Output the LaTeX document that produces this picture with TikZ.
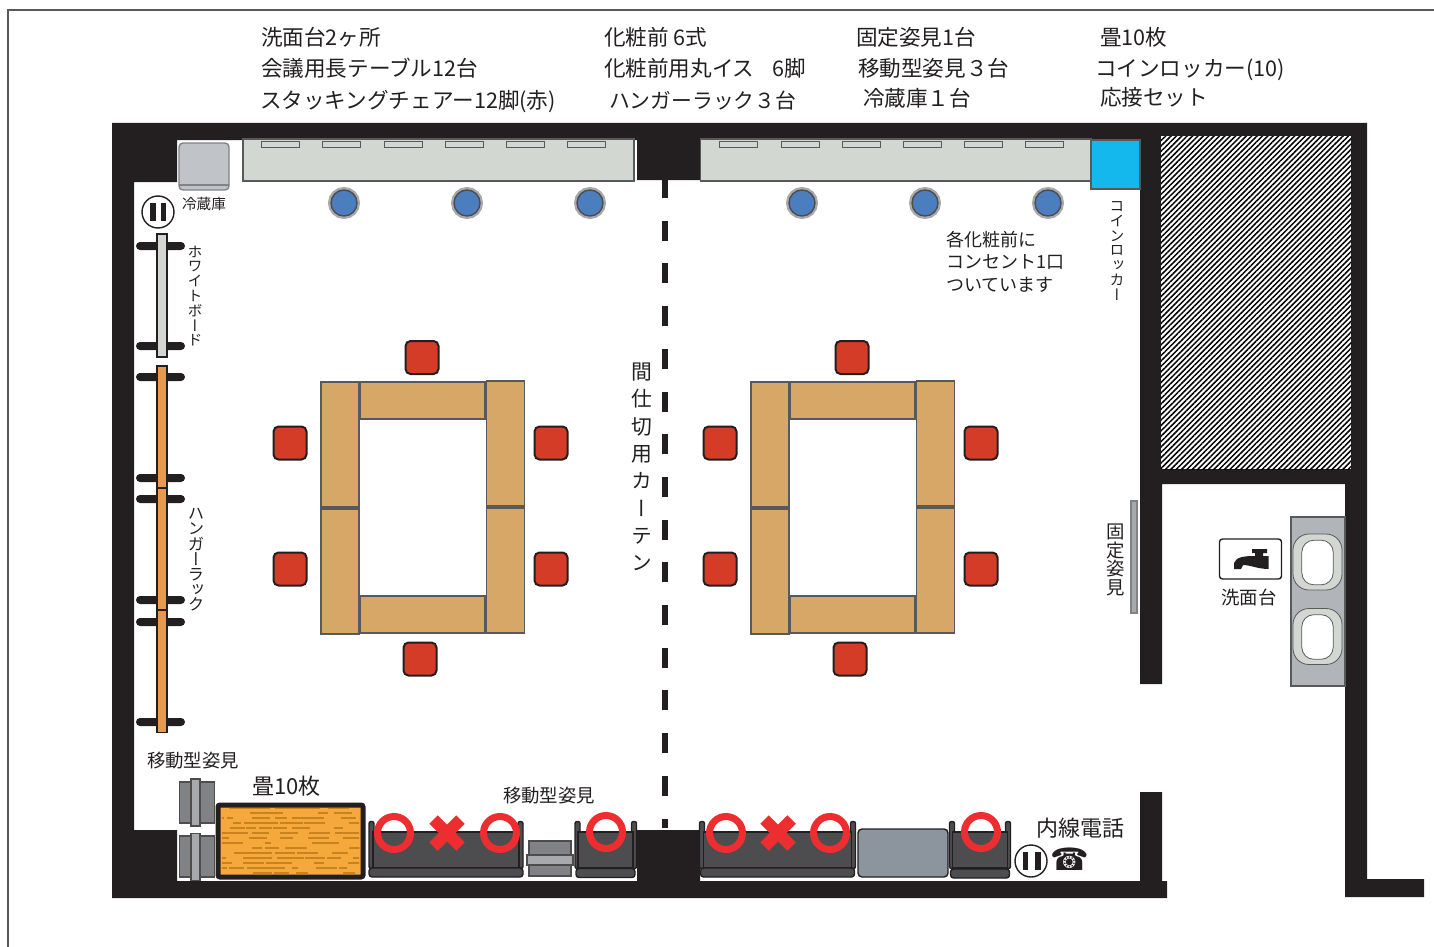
\documentclass[tikz,border=0pt]{standalone}
\usepackage{fontspec}
\setmainfont{Noto Sans CJK JP}
\newfontface\cjkvert[RawFeature={+vert}]{Noto Sans CJK JP}
\newfontfamily\symfont{DejaVu Sans}
\usetikzlibrary{shapes.misc,patterns.meta}

\definecolor{wallc}{HTML}{231F20}
\definecolor{linec}{HTML}{58595B}
\definecolor{cabc}{HTML}{D3D7D2}
\definecolor{tanc}{HTML}{D6A766}
\definecolor{chairc}{HTML}{D43C28}
\definecolor{stoolc}{HTML}{4A7EBF}
\definecolor{lockc}{HTML}{14B8EC}
\definecolor{orangec}{HTML}{E8994E}
\definecolor{tatamic}{HTML}{F5A83C}
\definecolor{tatamid}{HTML}{C8821E}
\definecolor{sofac}{HTML}{4D4D4F}
\definecolor{boxc}{HTML}{8C949E}
\definecolor{fridgec}{HTML}{C0C3C8}
\definecolor{sinkc}{HTML}{B1B5B9}
\definecolor{ringc}{HTML}{EE2D30}
\definecolor{mirrorc}{HTML}{808285}
\definecolor{mirrorl}{HTML}{A7A9AC}

\tikzstyle{block}=[rectangle, inner sep=0pt, outer sep=0pt, draw=linec, line width=0.7pt]
\tikzstyle{tblv}=[block, fill=tanc, minimum width=19pt, minimum height=62.5pt]
\tikzstyle{tblh}=[block, fill=tanc, minimum width=62.5pt, minimum height=18.5pt]
\tikzstyle{chair}=[block, fill=chairc, draw=wallc, line width=1pt, rounded corners=2.5pt, minimum width=16.5pt, minimum height=16.5pt]
\tikzstyle{stool}=[circle, inner sep=0pt, fill=stoolc, draw=wallc!80, line width=0.7pt, minimum size=13pt, preaction={draw=mirrorl, line width=3pt}]
\tikzstyle{cabinet}=[block, fill=cabc, minimum width=195.5pt, minimum height=21pt]
\tikzstyle{slot}=[block, fill=cabc, line width=0.5pt, minimum width=19pt, minimum height=2.7pt]
\tikzstyle{rail}=[block, fill=wallc, draw=none, rounded corners=2pt, minimum width=24.5pt, minimum height=4pt]
\tikzstyle{wboard}=[block, fill=cabc, draw=wallc, minimum width=5pt, minimum height=61.5pt]
\tikzstyle{hrack}=[block, fill=orangec, draw=wallc, minimum width=5pt, minimum height=61pt]
\tikzstyle{outlet}=[circle, inner sep=0pt, fill=white, draw=wallc, line width=0.7pt, minimum size=16pt]
\tikzstyle{plugbar}=[rectangle, inner sep=0pt, fill=wallc, minimum width=2.8pt, minimum height=9pt]
\tikzstyle{mvbox}=[block, fill=mirrorc, draw=wallc!80, minimum width=17.5pt, minimum height=20.5pt]
\tikzstyle{mvbar}=[block, fill=mirrorl, draw=wallc!80, minimum width=4.5pt, minimum height=23.5pt]
\tikzstyle{sofaarm}=[block, fill=sofac, draw=wallc, rounded corners=1pt, minimum width=2.5pt, minimum height=23.5pt]
\tikzstyle{sofaseat}=[block, fill=sofac, draw=wallc, minimum height=18pt]
\tikzstyle{sofarail}=[block, fill=sofac, draw=wallc, rounded corners=1.5pt, minimum height=4.5pt]
\tikzstyle{ring}=[circle, inner sep=0pt, draw=ringc, line width=3.5pt, minimum size=16.5pt]
\tikzstyle{cross}=[cross out, inner sep=0pt, draw=ringc, line width=6pt, minimum size=7.5pt]
\tikzstyle{basino}=[block, fill=cabc, line width=0.4pt, rounded corners=8pt, minimum width=24.5pt, minimum height=28pt]
\tikzstyle{basini}=[block, fill=white, line width=0.4pt, rounded corners=6pt, minimum width=15.7pt, minimum height=22.3pt]
\tikzstyle{lbl}=[inner sep=0pt, outer sep=0pt, text=wallc, text height=0.85em, text depth=0.15em]
\tikzstyle{toplbl}=[lbl, anchor=west, font=\fontsize{10.8}{12}\selectfont]
\tikzstyle{smalllbl}=[lbl, font=\fontsize{9.2}{11.25}\selectfont]
\tikzstyle{vlbl}=[inner sep=0pt, outer sep=0pt, text=wallc, align=center]

\begin{document}
\begin{tikzpicture}[x=0.5pt, y=-0.5pt]
    \useasboundingbox (0,0) rectangle (1434,947);
    \draw[linec, line width=0.8pt] (8,947) -- (8,10) -- (1434,10);

    \fill[wallc] (112,123) rectangle (1162,140)
      (112,123) rectangle (134,898)
      (134,140) rectangle (177,182)
      (637,140) rectangle (700,180)
      (112,881) rectangle (1167,898)
      (134,830) rectangle (177,881)
      (637,830) rectangle (700,881)
      (1140,123) rectangle (1162,684)
      (1140,792) rectangle (1162,881)
      (1162,123) rectangle (1367,136)
      (1351,123) rectangle (1367,484)
      (1345,484) rectangle (1367,893)
      (1162,469) rectangle (1351,484)
      (1345,879) rectangle (1424,897);
    \fill[white] (1161,136) rectangle (1351,469);
    \fill[pattern={Lines[angle=45, distance=1.9pt, line width=0.75pt]}, pattern color=black] (1161,136) rectangle (1351,469);

    \coordinate (curtaintop) at (665,178);
    \coordinate (curtainbot) at (665,828);
    \draw[wallc, line width=2.6pt, dash pattern=on 10pt off 11.35pt] (curtaintop) -- (curtainbot);

    \node[cabinet] (cab1) at (438.5,160) {};
    \node[cabinet] (cab2) at (896,160) {};
    \node[slot] (s1) at (280,144.5) {};
    \node[slot] (s2) at (341,144.5) {};
    \node[slot] (s3) at (403,144.5) {};
    \node[slot] (s4) at (464,144.5) {};
    \node[slot] (s5) at (525,144.5) {};
    \node[slot] (s6) at (586,144.5) {};
    \node[slot] (s7) at (738,144.5) {};
    \node[slot] (s8) at (800,144.5) {};
    \node[slot] (s9) at (861,144.5) {};
    \node[slot] (s10) at (922,144.5) {};
    \node[slot] (s11) at (983,144.5) {};
    \node[slot] (s12) at (1044,144.5) {};
    \node[block, fill=lockc, draw=linec, minimum width=24.5pt, minimum height=24.5pt] (locker) at (1115.5,164.5) {};

    \node[block, fill=fridgec, draw=mirrorc, rounded corners=2pt, minimum width=25pt, minimum height=23.5pt] (fridge) at (204,166.5) {};
    \draw[mirrorc, line width=0.7pt] (fridge.west |- 0,185) -- (fridge.east |- 0,185);

    \node[stool] (st1) at (344,203) {};
    \node[stool] (st2) at (467,203) {};
    \node[stool] (st3) at (590,203) {};
    \node[stool] (st4) at (802,203) {};
    \node[stool] (st5) at (925,203) {};
    \node[stool] (st6) at (1048,203) {};

    \node[outlet] (out1) at (158,212) {};
    \node[plugbar] (pb1) at (153,212) {};
    \node[plugbar] (pb2) at (163.5,212) {};
    \node[outlet] (out2) at (1031,861) {};
    \node[plugbar] (pb3) at (1025.5,861) {};
    \node[plugbar] (pb4) at (1038,861) {};

    \node[rail] (r1) at (160.5,246) {};
    \node[rail] (r2) at (160.5,346) {};
    \node[rail] (r3) at (160.5,377) {};
    \node[rail] (r4) at (160.5,478) {};
    \node[rail] (r5) at (160.5,499) {};
    \node[rail] (r6) at (160.5,600) {};
    \node[rail] (r7) at (160.5,622) {};
    \node[rail] (r8) at (160.5,722) {};
    \node[wboard] (wb) at (162,295.5) {};
    \node[hrack] (hr1) at (162,427) {};
    \node[hrack] (hr2) at (162,549) {};
    \node[hrack] (hr3) at (162,671.5) {};

    \node[tblv] (ta1) at (340,444.5) {};
    \node[tblv] (ta2) at (340,571.5) {};
    \node[tblh] (ta3) at (422.5,400.5) {};
    \node[tblh] (ta4) at (422.5,614.5) {};
    \node[tblv] (ta5) at (505.5,443.5) {};
    \node[tblv] (ta6) at (505.5,570.5) {};
    \node[tblv] (tb1) at (770,444.5) {};
    \node[tblv] (tb2) at (770,571.5) {};
    \node[tblh] (tb3) at (852.5,400.5) {};
    \node[tblh] (tb4) at (852.5,614.5) {};
    \node[tblv] (tb5) at (935.5,443.5) {};
    \node[tblv] (tb6) at (935.5,570.5) {};

    \node[chair] (ca1) at (422,357.5) {};
    \node[chair] (ca2) at (290,443) {};
    \node[chair] (ca3) at (290,569) {};
    \node[chair] (ca4) at (551,443) {};
    \node[chair] (ca5) at (551,569) {};
    \node[chair] (ca6) at (420,659) {};
    \node[chair] (cb1) at (852,357.5) {};
    \node[chair] (cb2) at (720,443) {};
    \node[chair] (cb3) at (720,569) {};
    \node[chair] (cb4) at (981,443) {};
    \node[chair] (cb5) at (981,569) {};
    \node[chair] (cb6) at (850,659) {};

    \node[mvbox] (mv1) at (197,802.5) {};
    \node[mvbar] (mb1) at (195.5,802.5) {};
    \node[mvbox] (mv2) at (197,856.5) {};
    \node[mvbar] (mb2) at (195.5,857) {};
    \node[block, fill=mirrorc, draw=wallc!80, minimum width=21pt, minimum height=17.5pt] (mv3) at (550,858.5) {};
    \node[block, fill=mirrorl, draw=wallc!80, minimum width=23pt, minimum height=5pt] (mb3) at (550,860) {};

    \node[block, fill=tatamic, draw=wallc, line width=2.5pt, rounded corners=1pt, minimum width=72.5pt, minimum height=36pt] (tatami) at (290.5,841) {};
    \begin{scope}
      \clip (222,808) rectangle (359,874);
      \pgfmathsetseed{23}
      \foreach \i in {1,...,150}{
        \pgfmathsetmacro{\tx}{212+150*rnd}
        \pgfmathsetmacro{\ty}{808+5*int(13.5*rnd)}
        \pgfmathsetmacro{\tl}{6+12*rnd}
        \draw[tatamid, line width=0.55pt] (\tx,\ty) -- ++(\tl,0);
      }
    \end{scope}

    \node[sofaarm] (sa1) at (371.5,845) {};
    \node[sofaarm] (sa2) at (520.5,845) {};
    \node[sofaseat, minimum width=73pt] (sf1) at (446,850) {};
    \node[sofarail, minimum width=77pt] (sr1) at (446,872.5) {};
    \node[sofaarm] (sa3) at (577.5,845) {};
    \node[sofaarm] (sa4) at (634,845) {};
    \node[sofaseat, minimum width=27.5pt] (sf2) at (605.5,850) {};
    \node[sofarail, minimum width=29.5pt] (sr2) at (605.5,873) {};
    \node[sofaarm] (sa5) at (702,845) {};
    \node[sofaarm] (sa6) at (853,845) {};
    \node[sofaseat, minimum width=74pt] (sf3) at (777.5,850) {};
    \node[sofarail, minimum width=77pt] (sr3) at (777.5,872.5) {};
    \node[block, fill=boxc, draw=wallc, rounded corners=2pt, minimum width=45pt, minimum height=24pt] (sofabox) at (903,853) {};
    \node[sofaarm] (sa7) at (952,845) {};
    \node[sofaarm] (sa8) at (1008,845) {};
    \node[sofaseat, minimum width=27.5pt] (sf4) at (980,850) {};
    \node[sofarail, minimum width=29.5pt] (sr4) at (980,873.5) {};

    \node[ring] (ri1) at (394,833) {};
    \node[cross] (cr1) at (447,833) {};
    \node[ring] (ri2) at (500,833) {};
    \node[ring] (ri3) at (606,832) {};
    \node[ring] (ri4) at (726,833) {};
    \node[cross] (cr2) at (778,833) {};
    \node[ring] (ri5) at (830,833) {};
    \node[ring] (ri6) at (981,832) {};

    \node[block, fill=mirrorl, draw=mirrorc, minimum width=3pt, minimum height=56pt] (fixmirror) at (1134,557) {};
    \node[block, fill=sinkc, minimum width=27pt, minimum height=84.5pt] (sink) at (1318,601.5) {};
    \node[basino] (bo1) at (1317.5,562) {};
    \node[basini] (bi1) at (1317.5,562.5) {};
    \node[basino] (bo2) at (1317.5,636.5) {};
    \node[basini] (bi2) at (1317.5,637) {};

    \node[block, fill=white, draw=wallc, rounded corners=1.5pt, minimum width=31pt, minimum height=20pt] (faucet) at (1250.5,559) {};
    \fill[wallc] (1234,569) -- (1234,563) .. controls (1236,557) and (1244,556) .. (1255,556)
      -- (1255,553) -- (1252,553) -- (1252,549) -- (1267,549) -- (1267,553) -- (1263,553) -- (1263,556) -- (1268.5,556)
      -- (1268.5,569) .. controls (1258,569) and (1250,565) .. (1243,565) -- (1241,569) -- cycle;

    \node[lbl, font=\fontsize{15.5}{16}\selectfont\symfont] (phone) at (1070,863) {☎};

    \node[toplbl] (t1) at (261,39) {洗面台2ヶ所};
    \node[toplbl] (t2) at (261,70) {会議用長テーブル12台};
    \node[toplbl] (t3) at (260,102) {スタッキングチェアー12脚(赤)};
    \node[toplbl] (t4) at (604,39) {化粧前 6式};
    \node[toplbl] (t5) at (604,70) {化粧前用丸イス\hspace{0.85em}6脚};
    \node[toplbl, font=\fontsize{10.4}{12}\selectfont] (t6) at (609,102) {ハンガーラック３台};
    \node[toplbl] (t7) at (856,39) {固定姿見1台};
    \node[toplbl] (t8) at (858,69) {移動型姿見３台};
    \node[toplbl] (t9) at (863,99) {冷蔵庫１台};
    \node[toplbl] (t10) at (1100,39) {畳10枚};
    \node[toplbl] (t11) at (1095,69) {コインロッカー(10)};
    \node[toplbl] (t12) at (1100,98) {応接セット};

    \node[lbl, font=\fontsize{7.3}{8}\selectfont] (lfridge) at (204,202) {冷蔵庫};
    \node[smalllbl] (lmirror1) at (193,760) {移動型姿見};
    \node[lbl, font=\fontsize{11}{12}\selectfont] (ltatami) at (286.5,787) {畳10枚};
    \node[smalllbl] (lmirror2) at (549,795) {移動型姿見};
    \node[lbl, font=\fontsize{11}{12}\selectfont] (lphone) at (1080,829) {内線電話};
    \node[smalllbl] (lsink) at (1249,597) {洗面台};
    \node[inner sep=0pt, outer sep=0pt, text=wallc, align=left, anchor=north west, font=\fontsize{9}{11.25}\selectfont] (lnote) at (946,231) {各化粧前に\\コンセント1口\\ついています};

    \node[vlbl, font=\fontsize{7.4}{7.4}\selectfont\cjkvert] (vboard) at (195,296) {ホ\\ワ\\イ\\ト\\ボ\\ー\\ド};
    \node[vlbl, font=\fontsize{8.2}{7.6}\selectfont\cjkvert] (vrack) at (196,560) {ハ\\ン\\ガ\\ー\\ラ\\ッ\\ク};
    \node[vlbl, font=\fontsize{7.4}{7.4}\selectfont\cjkvert] (vlocker) at (1117,251) {コ\\イ\\ン\\ロ\\ッ\\カ\\ー};
    \node[vlbl, font=\fontsize{9.2}{9.3}\selectfont\cjkvert] (vfixed) at (1116,560) {固\\定\\姿\\見};
    \node[vlbl, font=\fontsize{10.4}{13.65}\selectfont\cjkvert] (vcurtain) at (642,467) {間\\仕\\切\\用\\カ\\ー\\テ\\ン};
  \end{tikzpicture}
\end{document}
